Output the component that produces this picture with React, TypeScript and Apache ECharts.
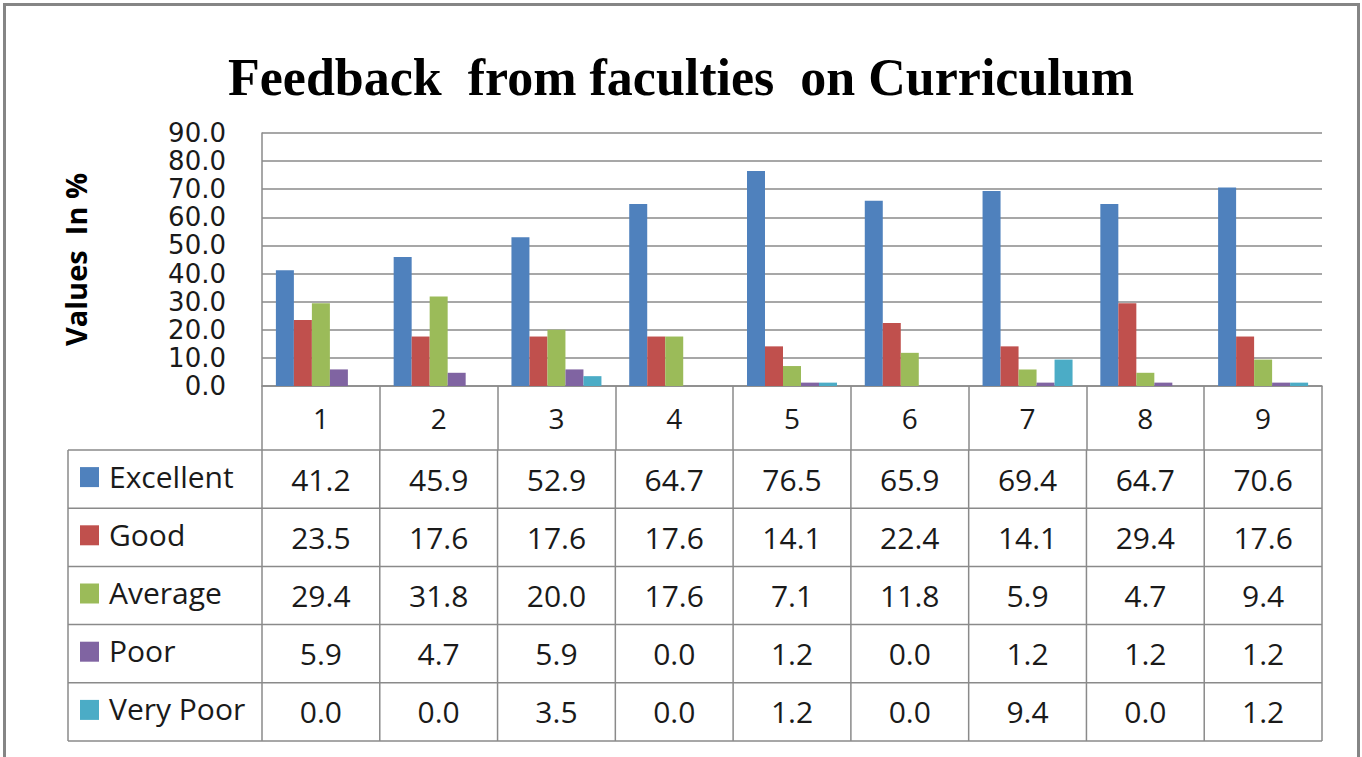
import React, { useEffect, useRef } from "react";
import * as echarts from "echarts";

const categories = ["1", "2", "3", "4", "5", "6", "7", "8", "9"];
const seriesNames = ["Excellent", "Good", "Average", "Poor", "Very Poor"];
const excellent = [41.2, 45.9, 52.9, 64.7, 76.5, 65.9, 69.4, 64.7, 70.6];
const good = [23.5, 17.6, 17.6, 17.6, 14.1, 22.4, 14.1, 29.4, 17.6];
const average = [29.4, 31.8, 20.0, 17.6, 7.1, 11.8, 5.9, 4.7, 9.4];
const poor = [5.9, 4.7, 5.9, 0.0, 1.2, 0.0, 1.2, 1.2, 1.2];
const veryPoor = [0.0, 0.0, 3.5, 0.0, 1.2, 0.0, 9.4, 0.0, 1.2];
const seriesValues = [excellent, good, average, poor, veryPoor];
const colors = ["#4F81BD", "#C0504D", "#9BBB59", "#8064A2", "#4BACC6"];
const yMin = 0;
const yMax = 90;
const yInterval = 10;

const W = 1362;
const H = 757;
const GRID_LEFT = 262;
const GRID_RIGHT_X = 1322;
const GRID_TOP = 133;
const GRID_BOTTOM_Y = 386;
const TABLE_LEFT = 68;
const TABLE_TOP = 450;
const TABLE_BOTTOM = 741;
const LINE = "#8a8a8a";
const FONT = '"Open Sans", "Liberation Sans", sans-serif';

export default function App() {
  const ref = useRef<HTMLDivElement>(null);
  useEffect(() => {
    if (!ref.current) return;
    const chart = echarts.init(ref.current, null, { renderer: "svg" });
    const colW = (GRID_RIGHT_X - GRID_LEFT) / categories.length;
    const rowH = (TABLE_BOTTOM - TABLE_TOP) / seriesNames.length;
    const graphic: any[] = [];
    // outer frame
    graphic.push({
      type: "rect",
      shape: { x: 4.5, y: 4.5, width: 1354, height: 800 },
      style: { fill: "none", stroke: "#858585", lineWidth: 3 },
      silent: true,
    });
    // table horizontal lines
    for (let r = 0; r <= seriesNames.length; r++) {
      const y = TABLE_TOP + r * rowH;
      graphic.push({
        type: "line",
        shape: { x1: TABLE_LEFT, y1: y, x2: GRID_RIGHT_X, y2: y },
        style: { stroke: LINE, lineWidth: 1.5 },
        silent: true,
      });
    }
    // table vertical lines
    const vx = [TABLE_LEFT];
    for (let i = 0; i <= categories.length; i++) vx.push(GRID_LEFT + i * colW);
    vx.forEach((x) =>
      graphic.push({
        type: "line",
        shape: { x1: x, y1: TABLE_TOP, x2: x, y2: TABLE_BOTTOM },
        style: { stroke: LINE, lineWidth: 1.5 },
        silent: true,
      })
    );
    // rows
    seriesNames.forEach((name, r) => {
      const cy = TABLE_TOP + r * rowH + rowH / 2;
      graphic.push({
        type: "rect",
        shape: { x: 80, y: cy - 12, width: 19, height: 20 },
        style: { fill: colors[r] },
        silent: true,
      });
      graphic.push({
        type: "text",
        style: {
          text: name,
          x: 109,
          y: cy - 3,
          font: `30px ${FONT}`,
          fill: "#1a1a1a",
          textAlign: "left",
          textVerticalAlign: "middle",
          align: "left",
          verticalAlign: "middle",
        },
        silent: true,
      });
      seriesValues[r].forEach((v, i) => {
        graphic.push({
          type: "text",
          style: {
            text: v.toFixed(1),
            x: GRID_LEFT + i * colW + colW / 2,
            y: cy,
            font: `30px ${FONT}`,
            fill: "#1a1a1a",
            textAlign: "center",
            textVerticalAlign: "middle",
            align: "center",
            verticalAlign: "middle",
          },
          silent: true,
        });
      });
    });

    chart.setOption({
      animation: false,
      backgroundColor: "#ffffff",
      title: {
        text: "Feedback  from faculties  on Curriculum",
        left: "center",
        top: 46,
        textStyle: {
          fontFamily: '"Liberation Serif", serif',
          fontWeight: "bold",
          fontSize: 52,
          color: "#000000",
        },
      },
      grid: {
        left: GRID_LEFT,
        right: W - GRID_RIGHT_X,
        top: GRID_TOP,
        bottom: H - GRID_BOTTOM_Y,
        containLabel: false,
      },
      xAxis: {
        type: "category",
        data: categories,
        boundaryGap: true,
        axisLine: { show: true, lineStyle: { color: LINE, width: 1.5 } },
        axisTick: { show: true, length: 64, lineStyle: { color: LINE, width: 1.5 } },
        axisLabel: { margin: 18, fontSize: 28, fontFamily: FONT, color: "#1a1a1a" },
      },
      yAxis: {
        type: "value",
        min: yMin,
        max: yMax,
        interval: yInterval,
        name: "Values  In %",
        nameLocation: "middle",
        nameRotate: 90,
        nameGap: 172,
        nameTextStyle: { fontFamily: FONT, fontWeight: "bold", fontSize: 29, color: "#000000" },
        axisLine: { show: true, lineStyle: { color: LINE, width: 1.5 } },
        axisTick: { show: false },
        axisLabel: {
          margin: 36,
          fontSize: 26,
          lineHeight: 26,
          fontFamily: '"DejaVu Sans", sans-serif',
          color: "#1a1a1a",
          showMinLabel: true,
          showMaxLabel: true,
          hideOverlap: false,
          formatter: (v: number) => v.toFixed(1),
        },
        splitLine: { show: true, lineStyle: { color: LINE, width: 1.5 } },
      },
      series: seriesNames.map((name, k) => ({
        name,
        type: "bar",
        data: seriesValues[k],
        barWidth: 18,
        barGap: "0%",
        itemStyle: { color: colors[k] },
      })),
      graphic,
    });
    return () => chart.dispose();
  }, []);
  return (
    <div
      ref={ref}
      style={{ position: "fixed", left: 0, top: 0, width: W, height: H, background: "#fff" }}
    />
  );
}
